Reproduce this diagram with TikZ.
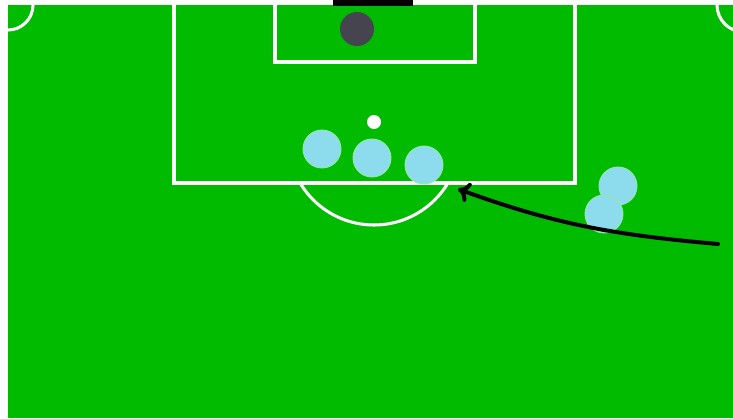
\documentclass[tikz,border=0pt]{standalone}
\usetikzlibrary{arrows.meta}
\definecolor{pitchgreen}{RGB}{0,187,0}
\definecolor{playerblue}{RGB}{140,220,238}
\definecolor{halogreen}{RGB}{150,230,170}
\definecolor{keepergray}{RGB}{70,68,78}
\begin{document}
\begin{tikzpicture}[x=0.03cm,y=-0.03cm]
\tikzset{
  pitchline/.style={draw=white,line width=2.6pt},
  player/.style={circle,fill=playerblue,draw=halogreen,line width=0.8pt,minimum size=1.14cm,inner sep=0pt},
  keeper/.style={circle,fill=keepergray,minimum size=1.02cm,inner sep=0pt},
  ball/.style={circle,fill=white,minimum size=0.42cm,inner sep=0pt},
  runarrow/.style={draw=black,line width=3.4pt,line cap=round,-{To[length=3.5mm,width=6mm]}}
}
\useasboundingbox (0,0) rectangle (733,418);
\fill[white] (0,0) rectangle (733,418);
\fill[pitchgreen] (8,5) rectangle (733,418);
\begin{scope}
\clip (8,5) rectangle (733,418);
\draw[pitchline] (8,5) circle[radius=25*0.03cm];
\draw[pitchline] (744,5) circle[radius=27*0.03cm];
\draw[pitchline] (374,139) circle[radius=86*0.03cm];
\fill[pitchgreen] (176,0) rectangle (573,181.5);
\draw[pitchline] (174,2) -- (174,183) -- (575,183) -- (575,2);
\draw[pitchline] (275,2) -- (275,62) -- (475,62) -- (475,2);
\end{scope}
\fill[black] (333,0) rectangle (413,6);
% keeper, ball and players
\node[keeper] (gk) at (357,29) {};
\node[ball] (ball) at (374,122) {};
\node[player] (p1) at (322,149) {};
\node[player] (p2) at (372,158) {};
\node[player] (p3) at (424,165) {};
\node[player] (p4) at (618,186) {};
\node[player] (p5) at (604,214) {};
% run
\coordinate (runstart) at (718,244);
\coordinate (runend) at (458,189);
\draw[runarrow] (runstart) to[out=175,in=-20] (runend);
\end{tikzpicture}
\end{document}
